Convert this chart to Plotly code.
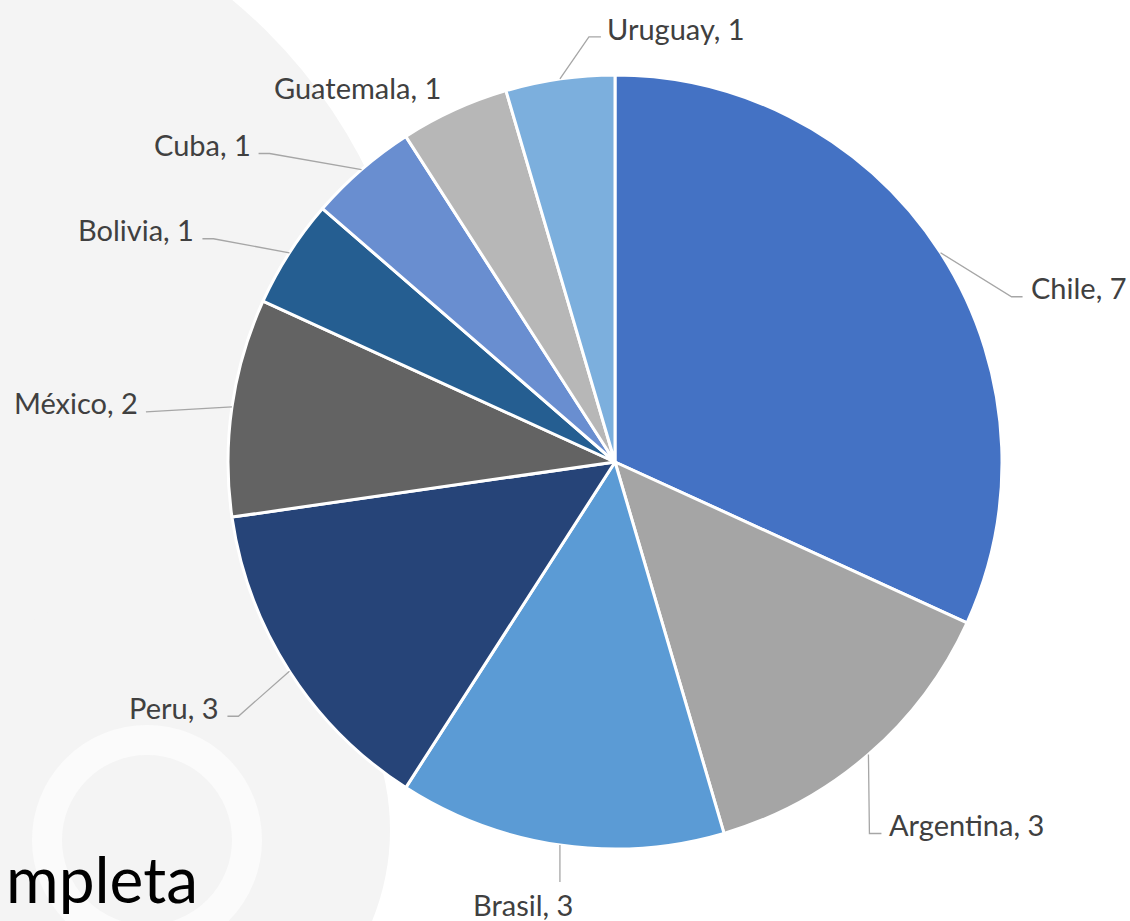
import math
import plotly.graph_objects as go

# ---- data ----
countries = ["Chile", "Argentina", "Brasil", "Peru", "México", "Bolivia", "Cuba", "Guatemala", "Uruguay"]
counts = [7, 3, 3, 3, 2, 1, 1, 1, 1]
colors = ["#4472C4", "#A5A5A5", "#5B9BD5", "#264478", "#636363", "#255E91", "#698ED0", "#B7B7B7", "#7CAFDD"]

# ---- layout parameters (pixels) ----
W, H = 1130, 921
CX, CY, R = 615, 462, 387

# leader line style per label: elbow offset from slice edge, horizontal tail, text offset from line end
elbow = [(71, 44), (1, 79), (0, 37), (-51, 45), (-86, 5), (-76, -14), (-92, -16), None, (29, -42)]
tail = [11, 12, 0, -11, 0, -11, -11, 0, 12]
text_off = [(6, -9, "left"), (6, -9, "left"), (-37, 22, "center"), (-6, -9, "right"),
            (-6, -9, "right"), (-6, -9, "right"), (-6, -9, "right"), (-97, -22, "center"),
            (4, -8, "left")]


def px(x):
    return x / W


def py(y):
    return 1 - y / H


fig = go.Figure()

# faint background watermark
shapes = [
    dict(type="circle", xref="paper", yref="paper", layer="below",
         x0=px(-100 - 520), x1=px(-100 + 520), y0=py(400 + 520), y1=py(400 - 520),
         fillcolor="#F4F4F4", line=dict(width=0)),
    dict(type="circle", xref="paper", yref="paper", layer="below",
         x0=px(150 - 240), x1=px(150 + 240), y0=py(830 + 240), y1=py(830 - 240),
         fillcolor="#F4F4F4", line=dict(width=0)),
    dict(type="circle", xref="paper", yref="paper", layer="below",
         x0=px(147 - 100), x1=px(147 + 100), y0=py(840 + 100), y1=py(840 - 100),
         fillcolor="rgba(0,0,0,0)", line=dict(color="#FBFBFB", width=30)),
]

fig.add_trace(go.Pie(
    labels=countries,
    values=counts,
    sort=False,
    direction="clockwise",
    rotation=0,
    marker=dict(colors=colors, line=dict(color="#FFFFFF", width=3)),
    textinfo="none",
    hoverinfo="label+value",
    showlegend=False,
    domain=dict(x=[px(CX - R), px(CX + R)], y=[py(CY + R), py(CY - R)]),
))

total = sum(counts)
annotations = []
cum = 0
for i, (name, v) in enumerate(zip(countries, counts)):
    mid = (cum + v / 2) / total * 2 * math.pi
    cum += v
    ex = CX + R * math.sin(mid)
    ey = CY - R * math.cos(mid)
    if elbow[i] is not None:
        bx, by = ex + elbow[i][0], ey + elbow[i][1]
        tx_end = bx + tail[i]
        path = f"M {px(ex)},{py(ey)} L {px(bx)},{py(by)} L {px(tx_end)},{py(by)}"
        shapes.append(dict(type="path", xref="paper", yref="paper", path=path,
                           line=dict(color="#A6A6A6", width=1.3)))
        lx, ly = tx_end, by
    else:
        lx, ly = ex, ey
    ox, oy, anchor = text_off[i]
    annotations.append(dict(
        x=px(lx + ox), y=py(ly + oy), xref="paper", yref="paper",
        text=f"{name}, {v}", showarrow=False, xanchor=anchor, yanchor="middle",
        font=dict(family="Lato", size=29, color="#404040"),
    ))

# cut-off slide title text at the bottom left
annotations.append(dict(
    x=px(4), y=py(919), xref="paper", yref="paper", text="mpleta",
    showarrow=False, xanchor="left", yanchor="bottom",
    font=dict(family="Lato", size=64, color="#000000"),
))

fig.update_layout(
    width=W, height=H,
    margin=dict(l=0, r=0, t=0, b=0),
    paper_bgcolor="#FFFFFF",
    plot_bgcolor="#FFFFFF",
    shapes=shapes,
    annotations=annotations,
    showlegend=False,
)

fig.write_html("out.html", config={"displayModeBar": False},
               post_script="document.body.style.margin='0';document.body.style.overflow='hidden';")
